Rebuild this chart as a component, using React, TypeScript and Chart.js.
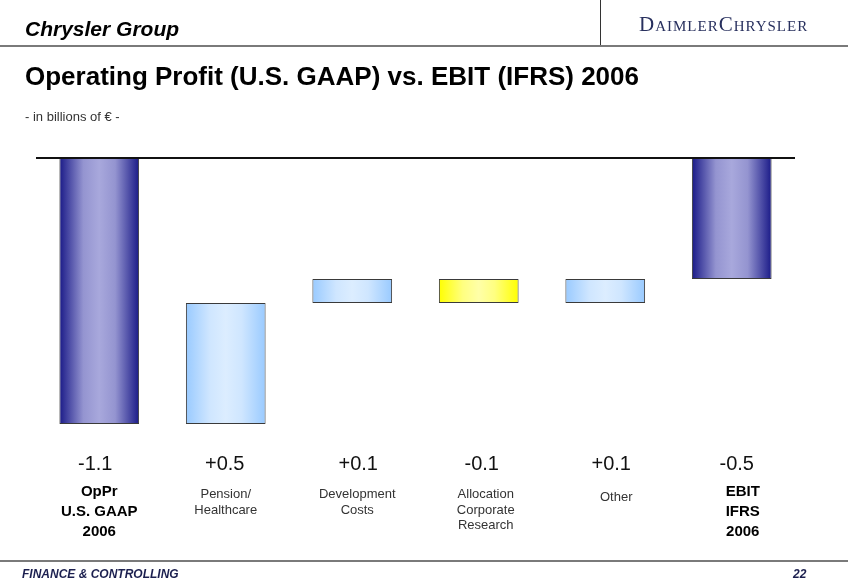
import React, { useEffect, useRef } from "react";
import { Chart, registerables } from "chart.js";

Chart.register(...registerables);

// ---- data ----
const CATEGORY_LINES: string[][] = [
  ["OpPr", "U.S. GAAP", "2006"],
  ["Pension/", "Healthcare"],
  ["Development", "Costs"],
  ["Allocation", "Corporate", "Research"],
  ["Other"],
  ["EBIT", "IFRS", "2006"],
];
const VALUES: number[] = [-1.1, 0.5, 0.1, -0.1, 0.1, -0.5];
const VALUE_LABELS: string[] = ["-1.1", "+0.5", "+0.1", "-0.1", "+0.1", "-0.5"];
const IS_TOTAL: boolean[] = [true, false, false, false, false, true];
const Y_MIN = -1.1;
const Y_MAX = 0;

// ---- styles ----
const BAR_STYLE: string[] = ["dark", "light", "light", "yellow", "light", "dark"];
const GRADIENTS: Record<string, [number, string][]> = {
  dark: [[0, "#1a1a88"], [0.3, "#9494d0"], [0.5, "#a8a8dc"], [0.7, "#9494d0"], [1, "#1a1a88"]],
  light: [[0, "#99caff"], [0.3, "#cfe6ff"], [0.5, "#dcedff"], [0.7, "#cfe6ff"], [1, "#99caff"]],
  yellow: [[0, "#ffff00"], [0.3, "#ffff80"], [0.5, "#ffffa8"], [0.7, "#ffff80"], [1, "#ffff00"]],
};
const VALUE_DX = [-4, -1, 6, 3, 6, 5];
const LABEL_DX = [0, 0, 5, 7, 11, 11];
const BAR_PCT = 0.63;
const FONT = "'Liberation Sans', Arial, sans-serif";

function buildFloating(): [number, number][] {
  const out: [number, number][] = [];
  let running = 0;
  VALUES.forEach((v, i) => {
    if (IS_TOTAL[i]) {
      out.push([0, v]);
      running = v;
    } else {
      out.push([running, running + v]);
      running += v;
    }
  });
  return out;
}

const overlayPlugin = {
  id: "overlay",
  afterDraw(chart: any) {
    const ctx = chart.ctx as CanvasRenderingContext2D;
    const xs = chart.scales.x;
    const ys = chart.scales.y;
    const area = chart.chartArea;
    // zero line
    const y0 = Math.round(ys.getPixelForValue(0));
    ctx.save();
    ctx.strokeStyle = "#111";
    ctx.lineWidth = 2;
    ctx.beginPath();
    ctx.moveTo(area.left, y0);
    ctx.lineTo(area.right, y0);
    ctx.stroke();
    // labels
    ctx.textAlign = "center";
    ctx.textBaseline = "alphabetic";
    ctx.fillStyle = "#111";
    CATEGORY_LINES.forEach((lines, i) => {
      const cx = xs.getPixelForValue(i);
      ctx.font = `20px ${FONT}`;
      ctx.fillText(VALUE_LABELS[i], cx + VALUE_DX[i], 470);
      const bold = IS_TOTAL[i];
      ctx.font = bold ? `bold 15px ${FONT}` : `13px ${FONT}`;
      const lh = bold ? 20 : 15.5;
      const base = bold ? 496 : lines.length === 1 ? 501 : 498;
      ctx.fillStyle = bold ? "#000" : "#333";
      lines.forEach((t, k) => ctx.fillText(t, cx + LABEL_DX[i], base + k * lh));
      ctx.fillStyle = "#111";
    });
    ctx.restore();
  },
};

export default function App() {
  const ref = useRef<HTMLCanvasElement>(null);
  useEffect(() => {
    if (!ref.current) return;
    const floating = buildFloating();
    const chart = new Chart(ref.current, {
      type: "bar",
      data: {
        labels: CATEGORY_LINES.map((l) => l.join(" ")),
        datasets: [
          {
            data: floating as any,
            backgroundColor: (c: any) => {
              const ch = c.chart;
              const xs = ch.scales?.x;
              const style = BAR_STYLE[c.dataIndex] || "light";
              if (!xs || c.type !== "data" || !ch.chartArea) return GRADIENTS[style][2][1];
              const cx = xs.getPixelForValue(c.dataIndex);
              const w = (xs.width / CATEGORY_LINES.length) * BAR_PCT;
              const g = ch.ctx.createLinearGradient(cx - w / 2, 0, cx + w / 2, 0);
              GRADIENTS[style].forEach(([o, col]) => g.addColorStop(o, col));
              return g;
            },
            borderColor: "#3a3a3a",
            borderWidth: 1,
            borderSkipped: false,
            categoryPercentage: 1,
            barPercentage: BAR_PCT,
          },
        ],
      },
      options: {
        responsive: false,
        animation: false,
        layout: { padding: { left: 36, right: 53, top: 158, bottom: 163 } },
        plugins: { legend: { display: false }, tooltip: { enabled: false } },
        scales: {
          x: { display: false },
          y: { display: false, min: Y_MIN, max: Y_MAX },
        },
      },
      plugins: [overlayPlugin],
    });
    return () => chart.destroy();
  }, []);

  const abs = (o: React.CSSProperties): React.CSSProperties => ({ position: "absolute", margin: 0, lineHeight: 1, whiteSpace: "nowrap", ...o });

  return (
    <div style={{ position: "absolute", left: 0, top: 0, width: 848, height: 587, background: "#fff", fontFamily: FONT, overflow: "hidden" }}>
      <canvas ref={ref} width={848} height={587} style={{ position: "absolute", left: 0, top: 0 }} />
      <div style={abs({ left: 25, top: 18, fontSize: 21, fontWeight: "bold", fontStyle: "italic", color: "#000" })}>Chrysler Group</div>
      <div style={abs({ left: 639, top: 14, fontSize: 21, letterSpacing: 1, fontFamily: "'Liberation Serif', 'Times New Roman', serif", fontVariant: "small-caps", color: "#28305e" })}>DaimlerChrysler</div>
      <div style={{ position: "absolute", left: 600, top: 0, width: 1, height: 46, background: "#333" }} />
      <div style={{ position: "absolute", left: 0, top: 45, width: 848, height: 2, background: "#7a7a7a" }} />
      <div style={abs({ left: 25, top: 63, fontSize: 26, fontWeight: "bold", color: "#000" })}>Operating Profit (U.S. GAAP) vs. EBIT (IFRS) 2006</div>
      <div style={abs({ left: 25, top: 110, fontSize: 13, color: "#333" })}>- in billions of € -</div>
      <div style={{ position: "absolute", left: 0, top: 560, width: 848, height: 2, background: "#7a7a7a" }} />
      <div style={abs({ left: 22, top: 568, fontSize: 12, fontWeight: "bold", fontStyle: "italic", color: "#1b1f4f" })}>FINANCE &amp; CONTROLLING</div>
      <div style={abs({ left: 793, top: 568, fontSize: 12, fontWeight: "bold", fontStyle: "italic", color: "#1b1f4f" })}>22</div>
    </div>
  );
}
